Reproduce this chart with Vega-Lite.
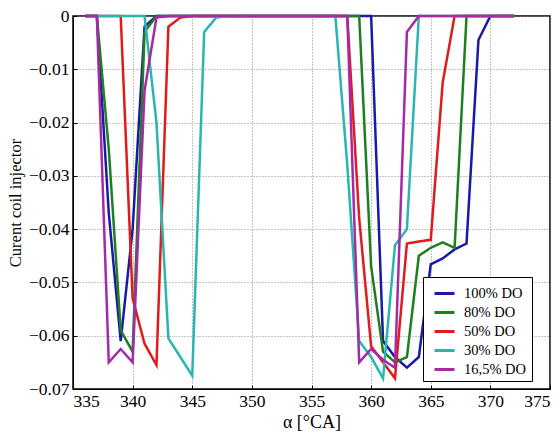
{
 "$schema": "https://vega.github.io/schema/vega-lite/v6.json",
 "width": 477,
 "height": 373,
 "autosize": {"type": "none"},
 "padding": {"left": 73, "top": 16, "right": 10, "bottom": 50},
 "background": "white",
 "config": {"font": "Liberation Serif, Times New Roman, serif", "view": {"stroke": "black", "strokeWidth": 1.5},
  "axis": {"labelFont": "Liberation Serif, Times New Roman, serif", "titleFont": "Liberation Serif, Times New Roman, serif"},
  "legend": {"labelFont": "Liberation Serif, Times New Roman, serif"}},
 "data": {"values": [
  {"a":336,"v":0,"s":"100% DO"},{"a":337,"v":0,"s":"100% DO"},{"a":338,"v":-0.037,"s":"100% DO"},{"a":339,"v":-0.061,"s":"100% DO"},{"a":340,"v":-0.04,"s":"100% DO"},{"a":341,"v":-0.002,"s":"100% DO"},{"a":342,"v":0,"s":"100% DO"},{"a":360,"v":0,"s":"100% DO"},{"a":361,"v":-0.061,"s":"100% DO"},{"a":362,"v":-0.064,"s":"100% DO"},{"a":363,"v":-0.066,"s":"100% DO"},{"a":364,"v":-0.064,"s":"100% DO"},{"a":365,"v":-0.0466,"s":"100% DO"},{"a":366,"v":-0.0455,"s":"100% DO"},{"a":367,"v":-0.0438,"s":"100% DO"},{"a":368,"v":-0.0427,"s":"100% DO"},{"a":369,"v":-0.0045,"s":"100% DO"},{"a":370,"v":0,"s":"100% DO"},{"a":372,"v":0,"s":"100% DO"},
  {"a":336,"v":0,"s":"80% DO"},{"a":337,"v":0,"s":"80% DO"},{"a":338,"v":-0.025,"s":"80% DO"},{"a":339,"v":-0.059,"s":"80% DO"},{"a":340,"v":-0.063,"s":"80% DO"},{"a":341,"v":-0.003,"s":"80% DO"},{"a":342,"v":0,"s":"80% DO"},{"a":359,"v":0,"s":"80% DO"},{"a":360,"v":-0.047,"s":"80% DO"},{"a":361,"v":-0.063,"s":"80% DO"},{"a":362,"v":-0.065,"s":"80% DO"},{"a":363,"v":-0.064,"s":"80% DO"},{"a":364,"v":-0.045,"s":"80% DO"},{"a":365,"v":-0.0435,"s":"80% DO"},{"a":366,"v":-0.0425,"s":"80% DO"},{"a":367,"v":-0.0435,"s":"80% DO"},{"a":368,"v":0,"s":"80% DO"},{"a":372,"v":0,"s":"80% DO"},
  {"a":336,"v":0,"s":"50% DO"},{"a":339,"v":0,"s":"50% DO"},{"a":340,"v":-0.053,"s":"50% DO"},{"a":341,"v":-0.0615,"s":"50% DO"},{"a":342,"v":-0.0655,"s":"50% DO"},{"a":343,"v":-0.002,"s":"50% DO"},{"a":344,"v":-0.0003,"s":"50% DO"},{"a":345,"v":0,"s":"50% DO"},{"a":358,"v":0,"s":"50% DO"},{"a":359,"v":-0.038,"s":"50% DO"},{"a":360,"v":-0.062,"s":"50% DO"},{"a":361,"v":-0.065,"s":"50% DO"},{"a":362,"v":-0.068,"s":"50% DO"},{"a":363,"v":-0.0427,"s":"50% DO"},{"a":364,"v":-0.0423,"s":"50% DO"},{"a":365,"v":-0.042,"s":"50% DO"},{"a":366,"v":-0.0125,"s":"50% DO"},{"a":367,"v":0,"s":"50% DO"},{"a":372,"v":0,"s":"50% DO"},
  {"a":336,"v":0,"s":"30% DO"},{"a":341,"v":0,"s":"30% DO"},{"a":342,"v":-0.02,"s":"30% DO"},{"a":343,"v":-0.0605,"s":"30% DO"},{"a":344,"v":-0.064,"s":"30% DO"},{"a":345,"v":-0.0675,"s":"30% DO"},{"a":346,"v":-0.003,"s":"30% DO"},{"a":347,"v":-0.0003,"s":"30% DO"},{"a":348,"v":0,"s":"30% DO"},{"a":357,"v":0,"s":"30% DO"},{"a":358,"v":-0.028,"s":"30% DO"},{"a":359,"v":-0.061,"s":"30% DO"},{"a":360,"v":-0.064,"s":"30% DO"},{"a":361,"v":-0.068,"s":"30% DO"},{"a":362,"v":-0.043,"s":"30% DO"},{"a":363,"v":-0.04,"s":"30% DO"},{"a":364,"v":0,"s":"30% DO"},{"a":372,"v":0,"s":"30% DO"},
  {"a":336,"v":0,"s":"16,5% DO"},{"a":337,"v":0,"s":"16,5% DO"},{"a":338,"v":-0.065,"s":"16,5% DO"},{"a":339,"v":-0.0625,"s":"16,5% DO"},{"a":340,"v":-0.065,"s":"16,5% DO"},{"a":341,"v":-0.014,"s":"16,5% DO"},{"a":342,"v":-0.0003,"s":"16,5% DO"},{"a":343,"v":0,"s":"16,5% DO"},{"a":358,"v":0,"s":"16,5% DO"},{"a":359,"v":-0.065,"s":"16,5% DO"},{"a":360,"v":-0.0625,"s":"16,5% DO"},{"a":361,"v":-0.0645,"s":"16,5% DO"},{"a":362,"v":-0.066,"s":"16,5% DO"},{"a":363,"v":-0.003,"s":"16,5% DO"},{"a":364,"v":0,"s":"16,5% DO"},{"a":372,"v":0,"s":"16,5% DO"}
 ]},
 "mark": {"type": "line", "strokeWidth": 2.5, "clip": false},
 "encoding": {
  "x": {"field": "a", "type": "quantitative",
   "scale": {"domain": [335, 375], "nice": false, "zero": false},
   "axis": {"title": "α [°CA]", "values": [335,340,345,350,355,360,365,370,375],
    "labelFont": "Liberation Serif, Times New Roman, serif", "titleFont": "Liberation Serif, Times New Roman, serif",
    "labelFontSize": 17.5, "labelColor": "black", "labelPadding": 7,
    "titleFontSize": 18, "titleFontWeight": "normal", "titleColor": "black", "titlePadding": 4,
    "domainColor": "black", "tickColor": "black", "tickSize": -4,
    "grid": true, "gridDash": [1, 2], "gridColor": "#888", "gridWidth": 1}},
  "y": {"field": "v", "type": "quantitative",
   "scale": {"domain": [-0.07, 0], "nice": false, "zero": false},
   "axis": {"title": "Curent coil injector", "values": [0,-0.01,-0.02,-0.03,-0.04,-0.05,-0.06,-0.07],
    "labelExpr": "datum.value == 0 ? '0' : datum.label",
    "labelFont": "Liberation Serif, Times New Roman, serif", "titleFont": "Liberation Serif, Times New Roman, serif",
    "labelFontSize": 17.5, "labelColor": "black", "labelPadding": 8,
    "titleFontSize": 16.5, "titleFontWeight": "normal", "titleColor": "black", "titlePadding": 5,
    "domainColor": "black", "tickColor": "black", "tickSize": -4,
    "grid": true, "gridDash": [1, 2], "gridColor": "#888", "gridWidth": 1}},
  "color": {"field": "s", "type": "nominal", "sort": null,
   "scale": {"domain": ["100% DO", "80% DO", "50% DO", "30% DO", "16,5% DO"],
    "range": ["#1a1aa6", "#1f7f1f", "#e01b1b", "#2bb5b0", "#a52aa8"]},
   "legend": {"title": null, "orient": "none", "legendX": 350, "legendY": 261,
    "fillColor": "white", "strokeColor": "black", "padding": 5,
    "symbolType": "stroke", "symbolSize": 400, "symbolStrokeWidth": 3, "symbolOffset": 5,
    "labelFont": "Liberation Serif, Times New Roman, serif",
    "labelFontSize": 14.5, "labelColor": "black", "labelOffset": 8, "rowPadding": 1}}
 }
}
